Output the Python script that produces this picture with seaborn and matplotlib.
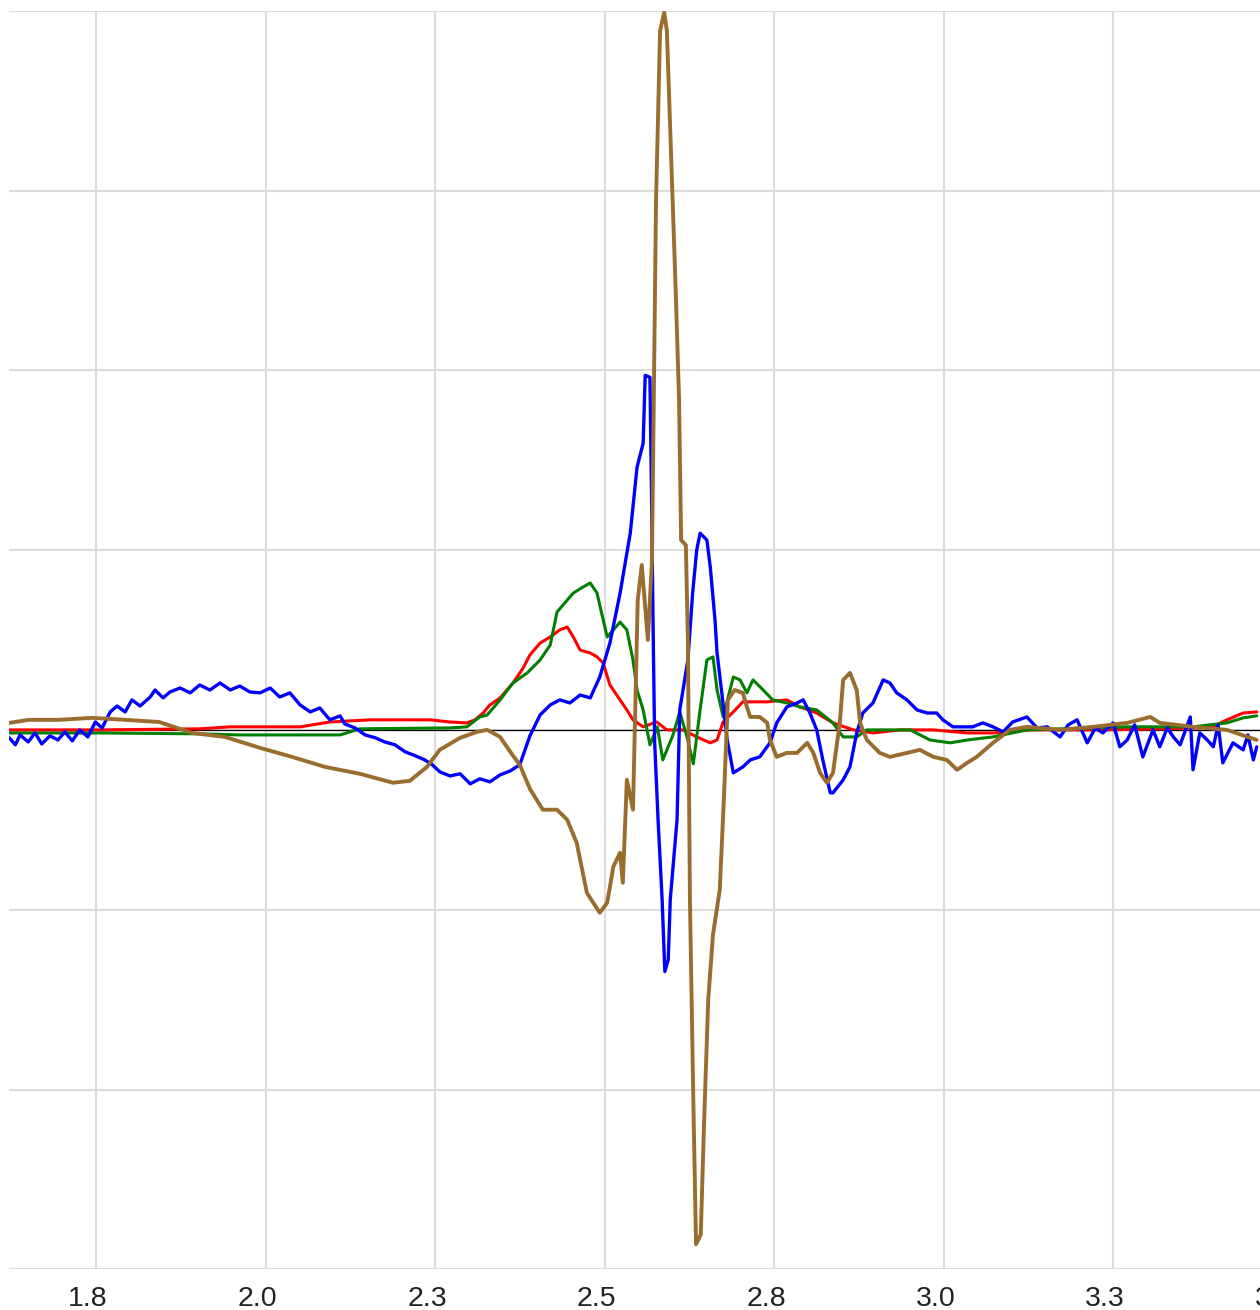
import matplotlib
matplotlib.use("Agg")
import matplotlib.pyplot as plt
import matplotlib.transforms as mtransforms
import numpy as np
import pandas as pd
import seaborn as sns

# ---- data: time (s) and signal (arbitrary units) for each channel ----
blue_t = [1.622, 1.631, 1.638, 1.650, 1.660, 1.670, 1.682, 1.694, 1.704, 1.715,
          1.726, 1.738, 1.749, 1.759, 1.771, 1.781, 1.793, 1.803, 1.815, 1.830,
          1.837, 1.849, 1.859, 1.874, 1.889, 1.903, 1.918, 1.933, 1.948, 1.962,
          1.977, 1.992, 2.007, 2.021, 2.036, 2.051, 2.066, 2.080, 2.095, 2.110,
          2.117, 2.132, 2.147, 2.162, 2.176, 2.191, 2.206, 2.221, 2.235, 2.246,
          2.257, 2.272, 2.287, 2.302, 2.316, 2.331, 2.346, 2.361, 2.375, 2.390,
          2.405, 2.420, 2.434, 2.449, 2.464, 2.479, 2.493, 2.508, 2.523, 2.538,
          2.548, 2.557, 2.560, 2.567, 2.569, 2.572, 2.574, 2.579, 2.585, 2.589,
          2.594, 2.597, 2.602, 2.607, 2.611, 2.623, 2.630, 2.636, 2.641, 2.651,
          2.656, 2.663, 2.666, 2.673, 2.681, 2.690, 2.704, 2.715, 2.729, 2.744,
          2.754, 2.769, 2.784, 2.793, 2.803, 2.813, 2.822, 2.833, 2.837, 2.852,
          2.862, 2.872, 2.881, 2.896, 2.911, 2.921, 2.931, 2.946, 2.961, 2.976,
          2.990, 2.999, 3.014, 3.029, 3.043, 3.058, 3.073, 3.088, 3.102, 3.123,
          3.138, 3.153, 3.172, 3.184, 3.197, 3.212, 3.224, 3.235, 3.250, 3.260,
          3.271, 3.282, 3.294, 3.309, 3.319, 3.330, 3.339, 3.349, 3.364, 3.368,
          3.378, 3.389, 3.398, 3.405, 3.412, 3.427, 3.442, 3.449, 3.457, 3.462]
blue_v = [-0.044, -0.083, -0.028, -0.067, -0.017, -0.078, -0.033, -0.056, -0.011, -0.061,
          0.000, -0.039, 0.044, 0.011, 0.100, 0.133, 0.100, 0.167, 0.133, 0.183,
          0.222, 0.178, 0.211, 0.233, 0.206, 0.250, 0.222, 0.261, 0.222, 0.244,
          0.211, 0.206, 0.233, 0.183, 0.206, 0.139, 0.100, 0.122, 0.056, 0.078,
          0.033, 0.011, -0.028, -0.044, -0.067, -0.083, -0.122, -0.144, -0.167, -0.194,
          -0.233, -0.256, -0.244, -0.300, -0.272, -0.289, -0.250, -0.228, -0.194, -0.033,
          0.083, 0.139, 0.167, 0.150, 0.194, 0.178, 0.294, 0.483, 0.761, 1.094,
          1.461, 1.594, 1.972, 1.961, 1.406, 0.483, -0.072, -0.500, -0.944, -1.344,
          -1.278, -0.944, -0.722, -0.500, 0.111, 0.389, 0.761, 1.000, 1.094, 1.056,
          0.906, 0.611, 0.428, 0.206, -0.056, -0.239, -0.206, -0.167, -0.150, -0.072,
          0.039, 0.128, 0.150, 0.167, 0.094, 0.000, -0.167, -0.350, -0.350, -0.278,
          -0.206, -0.017, 0.094, 0.150, 0.278, 0.261, 0.206, 0.167, 0.111, 0.094,
          0.094, 0.056, 0.017, 0.017, 0.017, 0.039, 0.017, -0.011, 0.044, 0.072,
          0.011, 0.017, -0.039, 0.028, 0.056, -0.072, 0.011, -0.017, 0.039, -0.094,
          -0.056, 0.028, -0.150, 0.000, -0.094, 0.011, -0.039, -0.083, 0.072, -0.222,
          -0.017, -0.056, -0.094, 0.028, -0.183, -0.072, -0.111, -0.028, -0.167, -0.094]

red_t = [1.622, 1.756, 1.903, 1.948, 2.051, 2.095, 2.154, 2.243, 2.272, 2.297,
         2.309, 2.321, 2.331, 2.346, 2.365, 2.380, 2.390, 2.405, 2.420, 2.434,
         2.445, 2.454, 2.464, 2.479, 2.489, 2.498, 2.508, 2.518, 2.533, 2.542,
         2.557, 2.577, 2.592, 2.616, 2.636, 2.656, 2.666, 2.675, 2.690, 2.704,
         2.740, 2.769, 2.788, 2.813, 2.837, 2.867, 2.896, 2.936, 2.985, 3.035,
         3.073, 3.128, 3.231, 3.319, 3.378, 3.400, 3.418, 3.442, 3.462]
red_v = [0.000, 0.000, 0.006, 0.017, 0.017, 0.044, 0.056, 0.056, 0.044, 0.039,
         0.056, 0.094, 0.139, 0.178, 0.261, 0.344, 0.417, 0.483, 0.517, 0.556,
         0.572, 0.517, 0.444, 0.428, 0.406, 0.372, 0.250, 0.194, 0.111, 0.056,
         0.017, 0.044, 0.000, 0.000, -0.039, -0.072, -0.056, 0.044, 0.100, 0.156,
         0.156, 0.167, 0.128, 0.094, 0.039, 0.000, -0.017, 0.000, 0.000, -0.017,
         -0.017, 0.000, 0.000, 0.006, 0.011, 0.022, 0.056, 0.094, 0.100]

green_t = [1.622, 1.756, 1.903, 1.962, 2.110, 2.139, 2.272, 2.297, 2.316, 2.327,
           2.346, 2.365, 2.386, 2.405, 2.420, 2.430, 2.445, 2.454, 2.468, 2.479,
           2.489, 2.493, 2.504, 2.513, 2.523, 2.533, 2.542, 2.548, 2.557, 2.567,
           2.578, 2.586, 2.601, 2.611, 2.622, 2.631, 2.641, 2.651, 2.660, 2.666,
           2.675, 2.690, 2.700, 2.710, 2.719, 2.734, 2.748, 2.769, 2.788, 2.813,
           2.837, 2.852, 2.872, 2.887, 2.917, 2.951, 2.980, 3.010, 3.035, 3.073,
           3.123, 3.271, 3.368, 3.418, 3.442, 3.462]
green_v = [-0.017, -0.017, -0.022, -0.028, -0.028, 0.006, 0.011, 0.017, 0.072, 0.083,
           0.167, 0.261, 0.317, 0.389, 0.472, 0.656, 0.722, 0.761, 0.794, 0.817,
           0.761, 0.694, 0.517, 0.556, 0.600, 0.556, 0.389, 0.222, 0.111, -0.083,
           0.017, -0.167, -0.028, 0.100, -0.044, -0.189, 0.111, 0.389, 0.406, 0.222,
           0.072, 0.294, 0.278, 0.206, 0.278, 0.222, 0.167, 0.150, 0.128, 0.111,
           0.039, -0.039, -0.039, 0.000, 0.000, 0.000, -0.056, -0.072, -0.056, -0.039,
           0.000, 0.017, 0.017, 0.039, 0.067, 0.078]

brown_t = [1.622, 1.651, 1.695, 1.744, 1.793, 1.843, 1.892, 1.940, 1.992, 2.039,
           2.088, 2.139, 2.188, 2.213, 2.238, 2.257, 2.287, 2.312, 2.327, 2.346,
           2.361, 2.375, 2.390, 2.409, 2.430, 2.445, 2.459, 2.474, 2.493, 2.504,
           2.513, 2.523, 2.527, 2.533, 2.542, 2.549, 2.555, 2.564, 2.570, 2.576,
           2.582, 2.588, 2.592, 2.600, 2.605, 2.610, 2.613, 2.620, 2.623, 2.626,
           2.631, 2.635, 2.642, 2.647, 2.653, 2.660, 2.670, 2.676, 2.682, 2.692,
           2.704, 2.710, 2.715, 2.729, 2.740, 2.744, 2.754, 2.769, 2.784, 2.799,
           2.808, 2.818, 2.828, 2.837, 2.847, 2.852, 2.862, 2.872, 2.877, 2.887,
           2.906, 2.921, 2.946, 2.965, 2.985, 3.005, 3.020, 3.035, 3.049, 3.073,
           3.098, 3.123, 3.172, 3.221, 3.271, 3.305, 3.319, 3.368, 3.418, 3.462]
brown_v = [0.039, 0.056, 0.056, 0.067, 0.056, 0.044, -0.017, -0.039, -0.100, -0.150,
           -0.206, -0.244, -0.294, -0.283, -0.206, -0.111, -0.044, -0.011, 0.000, -0.039,
           -0.122, -0.194, -0.328, -0.444, -0.444, -0.500, -0.628, -0.906, -1.017, -0.961,
           -0.761, -0.683, -0.850, -0.278, -0.444, 0.722, 0.917, 0.500, 0.944, 2.944,
           3.889, 3.990, 3.889, 3.000, 2.444, 1.833, 1.056, 1.028, 0.500, -0.944,
           -2.056, -2.861, -2.806, -2.167, -1.500, -1.139, -0.889, -0.389, 0.167, 0.222,
           0.206, 0.128, 0.072, 0.072, 0.039, -0.056, -0.150, -0.128, -0.128, -0.072,
           -0.128, -0.239, -0.294, -0.239, 0.039, 0.278, 0.317, 0.222, 0.039, -0.056,
           -0.128, -0.150, -0.128, -0.111, -0.150, -0.167, -0.222, -0.183, -0.150, -0.072,
           0.000, 0.017, 0.000, 0.017, 0.039, 0.072, 0.039, 0.017, 0.000, -0.056]

tick_values = [1.75, 2.0, 2.25, 2.5, 2.75, 3.0, 3.25, 3.5]
tick_labels = ["1.8", "2.0", "2.3", "2.5", "2.8", "3.0", "3.3", "3.5"]

# ---- styling ----
sns.set_style("whitegrid", {"grid.color": "#dcdcdc", "axes.edgecolor": "white"})
plt.rcParams["font.family"] = ["Liberation Sans", "DejaVu Sans"]

W, H, DPI = 1260, 1310, 100
fig = plt.figure(figsize=(W / DPI, H / DPI), dpi=DPI)

# plot area in pixels (right side runs past the canvas edge)
left_px, right_px, top_px, bottom_px = 9, 1290, 10.7, 1269.3
ax = fig.add_axes([left_px / W, 1 - bottom_px / H,
                   (right_px - left_px) / W, (bottom_px - top_px) / H])

x_min = 1.75 - (96 - left_px) / 678.0
x_max = 1.75 + (right_px - 96) / 678.0
ax.set_xlim(x_min, x_max)
ax.set_ylim(-3, 4)

ax.axhline(0, color="black", lw=0.9, zorder=1)

series = [
    (red_t, red_v, "#ff0000", 2.2),
    (green_t, green_v, "#008000", 2.2),
    (blue_t, blue_v, "#0000ff", 2.4),
    (brown_t, brown_v, "#9a6c2e", 2.8),
]
for z, (t, v, color, lw) in enumerate(series):
    df = pd.DataFrame({"t": t, "v": v})
    sns.lineplot(data=df, x="t", y="v", color=color, lw=lw, sort=False,
                 estimator=None, ax=ax, zorder=2 + z)

ax.set_xticks(tick_values)
ax.set_xticklabels(tick_labels)
ax.set_yticks(np.arange(-3, 5, 1))
ax.set_yticklabels([])
ax.set_xlabel("")
ax.set_ylabel("")
ax.grid(True, color="#dcdcdc", lw=1.5)
ax.tick_params(axis="both", length=0)
ax.tick_params(axis="x", labelsize=20.5, labelcolor="#222222", pad=12)
for s in ax.spines.values():
    s.set_visible(False)

shift = mtransforms.ScaledTranslation(-8 / DPI, 0, fig.dpi_scale_trans)
for lab in ax.get_xticklabels():
    lab.set_transform(lab.get_transform() + shift)

fig.savefig("out.png", dpi=DPI)
